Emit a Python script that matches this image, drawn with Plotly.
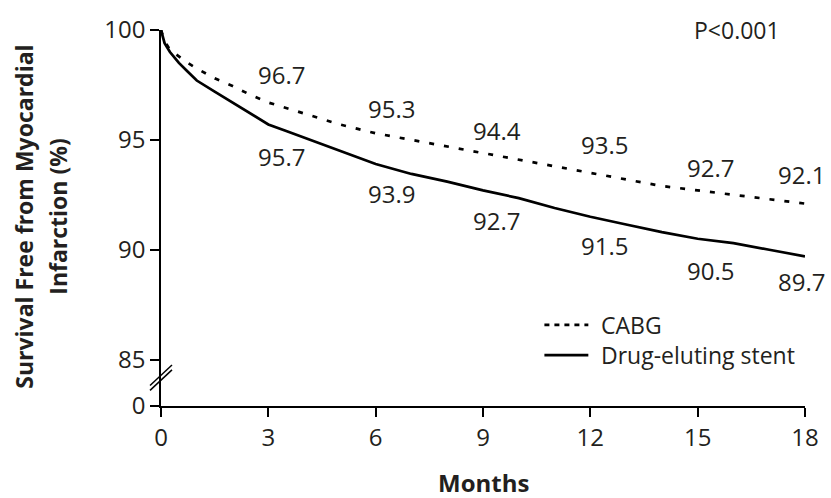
import plotly.graph_objects as go

# Kaplan-Meier estimates, survival free from myocardial infarction (%)
months = [0, 0.1, 0.25, 0.5, 0.75, 1, 1.5, 2, 2.5, 3, 3.5, 4, 4.5, 5, 5.5, 6,
          7, 8, 9, 10, 11, 12, 13, 14, 15, 16, 17, 18]
cabg = [100, 99.5, 99.1, 98.8, 98.5, 98.25, 97.8, 97.45, 97.05, 96.7, 96.45, 96.2,
        95.95, 95.7, 95.5, 95.3, 95.0, 94.7, 94.4, 94.1, 93.8, 93.5, 93.2, 92.9,
        92.7, 92.5, 92.3, 92.1]
des = [100, 99.4, 99.0, 98.5, 98.1, 97.7, 97.2, 96.7, 96.2, 95.7, 95.4, 95.1,
       94.8, 94.5, 94.2, 93.9, 93.45, 93.1, 92.7, 92.35, 91.9, 91.5, 91.15, 90.8,
       90.5, 90.3, 90.0, 89.7]

labeled_months = [3, 6, 9, 12, 15, 18]
x_ticks = [0, 3, 6, 9, 12, 15, 18]
y_tick_labels = ["0", "85", "90", "95", "100"]
y_tick_values = [0, 85, 90, 95, 100]
series_names = ["CABG", "Drug-eluting stent"]
p_value_text = "P<0.001"

# Broken axis: the span 0..85 is collapsed into a short gap below 85
BREAK_GAP = 2.11
def y_pos(v):
    return v if v >= 85 else 85 - BREAK_GAP

INK = "#231f20"
FONT = "Open Sans"

# Plot area in pixels
W, H = 831, 498
L, R, T, B = 161, 25, 21, 92
PW, PH = W - L - R, H - T - B

def px_to_paper(px, py):
    return (px - L) / PW, (H - B - py) / PH

fig = go.Figure()
fig.add_trace(go.Scatter(x=months, y=[y_pos(v) for v in cabg], mode="lines",
                         line=dict(color="black", width=2.7, dash="5px,10px"),
                         name=series_names[0], showlegend=False))
fig.add_trace(go.Scatter(x=months, y=[y_pos(v) for v in des], mode="lines",
                         line=dict(color="black", width=2.7),
                         name=series_names[1], showlegend=False))

# Value labels at each 3-month landmark (offsets in months and pixels)
cabg_dx = [0.38, 0.45, 0.38, 0.39, 0.35, -0.11]
cabg_dy = [28, 25, 23, 28, 23, 29]
des_dx = [0.38, 0.45, 0.38, 0.39, 0.35, -0.09]
des_dy = [-32, -29, -30, -29, -32, -25]
annotations = []
for i, m in enumerate(labeled_months):
    k = months.index(m)
    annotations.append(dict(x=m + cabg_dx[i], y=y_pos(cabg[k]), xref="x", yref="y",
                            text=f"{cabg[k]:.1f}", showarrow=False, yshift=cabg_dy[i],
                            font=dict(family=FONT, size=24, color=INK)))
    annotations.append(dict(x=m + des_dx[i], y=y_pos(des[k]), xref="x", yref="y",
                            text=f"{des[k]:.1f}", showarrow=False, yshift=des_dy[i],
                            font=dict(family=FONT, size=24, color=INK)))

# P value
px, py = px_to_paper(738, 21)
annotations.append(dict(x=px, y=py, xref="paper", yref="paper", text=p_value_text,
                        showarrow=False, xanchor="center", yanchor="middle",
                        font=dict(family=FONT, size=23, color=INK)))

# Axis titles
for line_text, cx in (("Survival Free from Myocardial", 23), ("Infarction (%)", 57)):
    ax, ay = px_to_paper(cx, 212)
    annotations.append(dict(x=ax, y=ay, xref="paper", yref="paper", text=f"<b>{line_text}</b>",
                            textangle=-90, showarrow=False, xanchor="center", yanchor="middle",
                            font=dict(family=FONT, size=23, color=INK)))
ax, ay = px_to_paper(484, 484)
annotations.append(dict(x=ax, y=ay, xref="paper", yref="paper", text="<b>Months</b>",
                        showarrow=False, xanchor="center", yanchor="middle",
                        font=dict(family=FONT, size=24, color=INK)))

# Legend drawn as line samples plus text
shapes = []
legend_rows = [(series_names[0], "5px,5px", 323), (series_names[1], "solid", 354)]
for name, dash, ly in legend_rows:
    x0, yy = px_to_paper(545, ly)
    x1, _ = px_to_paper(589, ly)
    shapes.append(dict(type="line", xref="paper", yref="paper", x0=x0, x1=x1, y0=yy, y1=yy,
                       line=dict(color="black", width=2.7, dash=dash)))
    tx, _ = px_to_paper(600, ly)
    annotations.append(dict(x=tx, y=yy, xref="paper", yref="paper", text=name,
                            showarrow=False, xanchor="left", yanchor="middle",
                            font=dict(family=FONT, size=23, color=INK)))

# Axis break marks
for off in (0, 5):
    x0, y0 = px_to_paper(150, 390 - off)
    x1, y1 = px_to_paper(172, 369 - off)
    shapes.append(dict(type="line", xref="paper", yref="paper", x0=x0, y0=y0, x1=x1, y1=y1,
                       line=dict(color="black", width=1.5)))

fig.update_layout(
    width=W, height=H,
    margin=dict(l=L, r=R, t=T, b=B, pad=0),
    paper_bgcolor="white", plot_bgcolor="white",
    showlegend=False,
    annotations=annotations, shapes=shapes,
    xaxis=dict(range=[0, 18], tickvals=x_ticks, ticks="outside", ticklen=9, tickwidth=1.5,
               tickcolor="black", showline=True, linecolor="black", linewidth=1.5,
               showgrid=False, zeroline=False,
               tickfont=dict(family=FONT, size=24, color=INK)),
    yaxis=dict(range=[85 - BREAK_GAP, 100], tickvals=[y_pos(v) for v in y_tick_values],
               ticktext=y_tick_labels, ticks="outside", ticklen=9, tickwidth=1.5,
               tickcolor="black", showline=True, linecolor="black", linewidth=1.5,
               showgrid=False, zeroline=False,
               tickfont=dict(family=FONT, size=24, color=INK)),
)

fig.write_html("out.html")
